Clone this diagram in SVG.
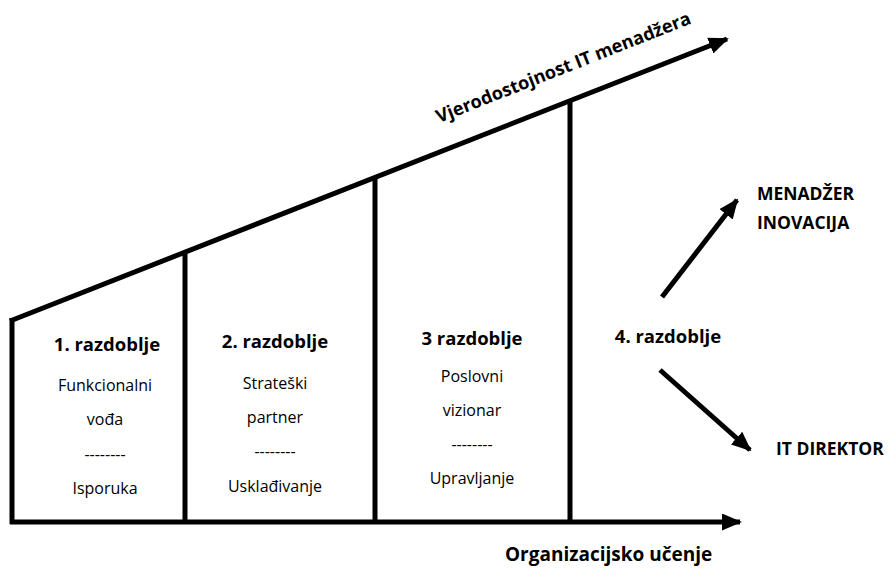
<svg xmlns="http://www.w3.org/2000/svg" width="888" height="568" viewBox="0 0 888 568">
<defs>
<style>
.ln{stroke:#000;stroke-width:5;fill:none;stroke-linecap:butt}
.ar{stroke:#000;stroke-width:5;fill:none}
.b{font-family:"Open Sans",Lato,sans-serif;font-weight:bold;font-size:18.5px;fill:#000}
.n{font-family:"Open Sans",Lato,sans-serif;font-size:16px;fill:#000}
.c{text-anchor:middle}
</style>
<marker id="ah" viewBox="0 0 10 10" refX="9" refY="5" markerWidth="4" markerHeight="3.4" markerUnits="strokeWidth" orient="auto" preserveAspectRatio="none">
<path d="M0,0 L10,5 L0,10 z" fill="#000"/>
</marker>
</defs>
<rect width="888" height="568" fill="#fff"/>
<g id="connectors">
<line class="ln" x1="12" y1="318" x2="12" y2="524"/>
<line class="ar" x1="10" y1="522" x2="740" y2="522" marker-end="url(#ah)"/>
<line class="ar" x1="10" y1="321" x2="727" y2="39" marker-end="url(#ah)"/>
<line class="ln" x1="185" y1="253" x2="185" y2="522"/>
<line class="ln" x1="375" y1="178" x2="375" y2="522"/>
<line class="ln" x1="570" y1="101" x2="570" y2="522"/>
<line class="ar" x1="662" y1="297" x2="737" y2="200" marker-end="url(#ah)"/>
<line class="ar" x1="660" y1="370" x2="750" y2="450" marker-end="url(#ah)"/>
</g>
<g id="axis-y">
<text class="b" transform="translate(439,123) rotate(-21.5)" style="font-size:18.2px">Vjerodostojnost IT menadžera</text>
</g>
<g id="axis-x">
<text class="b" x="505" y="561" style="font-size:19px">Organizacijsko učenje</text>
</g>
<g id="period1">
<text class="b c" x="107" y="351">1. razdoblje</text>
<text class="n c" x="105" y="391">Funkcionalni</text>
<text class="n c" x="105" y="425">vođa</text>
<text class="n c" x="105" y="460">--------</text>
<text class="n c" x="105" y="494">Isporuka</text>
</g>
<g id="period2">
<text class="b c" x="275" y="348">2. razdoblje</text>
<text class="n c" x="275" y="389">Strateški</text>
<text class="n c" x="275" y="423">partner</text>
<text class="n c" x="275" y="457">--------</text>
<text class="n c" x="275" y="492">Usklađivanje</text>
</g>
<g id="period3">
<text class="b c" x="472" y="345">3 razdoblje</text>
<text class="n c" x="472" y="382">Poslovni</text>
<text class="n c" x="472" y="416">vizionar</text>
<text class="n c" x="472" y="450">--------</text>
<text class="n c" x="472" y="484">Upravljanje</text>
</g>
<g id="period4">
<text class="b c" x="668" y="343">4. razdoblje</text>
</g>
<g id="menadzer">
<text class="b" x="757" y="200" style="font-size:17.5px">MENADŽER</text>
<text class="b" x="757" y="229" style="font-size:17.5px">INOVACIJA</text>
</g>
<g id="itdirektor">
<text class="b" x="776" y="455" style="font-size:17.5px">IT DIREKTOR</text>
</g>
</svg>
